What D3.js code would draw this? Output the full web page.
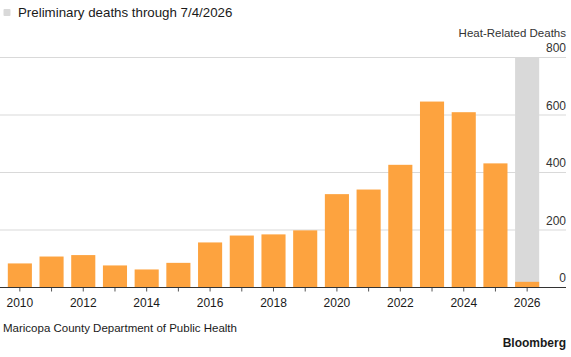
<!DOCTYPE html>
<html>
<head>
<meta charset="utf-8">
<script src="https://cdn.jsdelivr.net/npm/d3@7"></script>
<style>
  body { margin: 0; background: #fff; }
  text { font-family: "Liberation Sans", Arial, sans-serif; fill: #1a1a1a; }
</style>
</head>
<body>
<svg id="chart" width="571" height="357"></svg>
<script>
var years = [2010, 2011, 2012, 2013, 2014, 2015, 2016, 2017, 2018, 2019, 2020, 2021, 2022, 2023, 2024, 2025, 2026]
var deaths = [82, 106, 111, 75, 61, 84, 155, 179, 183, 197, 323, 339, 425, 645, 608, 430, 18]
var preliminaryYears = [2026]
var yTicks = [0, 200, 400, 600, 800]

var chartLeft = 0,
chartRight = 566,
chartTop = 57,
chartBottom = 287

var svg = d3.select("#chart")

var x = d3.scaleBand()
 .domain(years)
 .range([4, 543])
 .paddingInner(0.24)
 .paddingOuter(0.12)

var y = d3.scaleLinear()
 .domain([0, 800])
 .range([chartBottom, chartTop])

// gridlines
svg.selectAll(".grid")
 .data(yTicks.filter(function(d){ return d > 0 }))
 .enter().append("line")
 .attr("class", "grid")
 .attr("x1", chartLeft)
 .attr("x2", chartRight)
 .attr("y1", function(d){ return y(d) + 0.5 })
 .attr("y2", function(d){ return y(d) + 0.5 })
 .attr("stroke", "#d9d9d9")
 .attr("stroke-width", 1)

// preliminary band
svg.selectAll(".prelim")
 .data(preliminaryYears)
 .enter().append("rect")
 .attr("x", function(d){ return x(d) })
 .attr("y", y(800))
 .attr("width", x.bandwidth())
 .attr("height", y(0) - y(800))
 .attr("fill", "#d9d9d9")

// bars
svg.selectAll(".bar")
 .data(deaths)
 .enter().append("rect")
 .attr("class", "bar")
 .attr("x", function(d, i){ return x(years[i]) })
 .attr("y", function(d){ return y(d) })
 .attr("width", x.bandwidth())
 .attr("height", function(d){ return y(0) - y(d) })
 .attr("fill", "#fda33f")

// y labels
svg.selectAll(".ylab")
 .data(yTicks)
 .enter().append("text")
 .attr("x", chartRight)
 .attr("y", function(d){ return y(d) - 5 })
 .attr("text-anchor", "end")
 .style("font-size", "12px")
 .style("fill", "#333")
 .text(function(d){ return d })

svg.append("text")
 .attr("x", chartRight)
 .attr("y", y(800) - 20)
 .attr("text-anchor", "end")
 .style("font-size", "11.5px")
 .style("fill", "#333")
 .text("Heat-Related Deaths")

// x axis
var xAxis = d3.axisBottom(x)
 .tickSize(4)
 .tickFormat(function(d){ return d % 2 == 0 ? d : "" })

var ax = svg.append("g")
 .attr("transform", "translate(0," + (chartBottom + 0.5) + ")")
 .call(xAxis)
ax.select(".domain").remove()
ax.selectAll(".tick line").attr("stroke", "#555")
ax.selectAll(".tick text")
 .attr("dy", "0.85em")
 .attr("y", 9)
 .style("font-size", "12px")
 .style("font-family", "'Liberation Sans', Arial, sans-serif")
 .attr("fill", "#222")
ax.append("line")
 .attr("x1", chartLeft)
 .attr("x2", chartRight)
 .attr("stroke", "#333")

// legend
svg.append("rect")
 .attr("x", 3.5)
 .attr("y", 9)
 .attr("width", 7)
 .attr("height", 7)
 .attr("rx", 1)
 .attr("fill", "#d9d9d9")
svg.append("text")
 .attr("x", 18)
 .attr("y", 17)
 .style("font-size", "13.3px")
 .text("Preliminary deaths through 7/4/2026")

// footer
svg.append("text")
 .attr("x", 3)
 .attr("y", 332)
 .style("font-size", "11.5px")
 .text("Maricopa County Department of Public Health")
svg.append("text")
 .attr("x", chartRight)
 .attr("y", 347)
 .attr("text-anchor", "end")
 .style("font-size", "12px")
 .style("font-weight", "bold")
 .text("Bloomberg")
</script>
</body>
</html>
